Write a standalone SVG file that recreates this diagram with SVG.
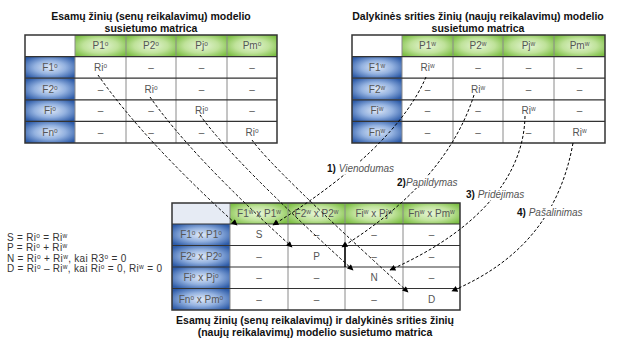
<svg xmlns="http://www.w3.org/2000/svg" width="619" height="341" viewBox="0 0 619 341">
<defs>
<radialGradient id="gG" cx="0.5" cy="0.5" r="0.62">
<stop offset="0" stop-color="#e6f5d6"/><stop offset="0.55" stop-color="#bfe29a"/><stop offset="1" stop-color="#7dbf45"/>
</radialGradient>
<radialGradient id="gB" cx="0.5" cy="0.5" r="0.62">
<stop offset="0" stop-color="#e0e9f7"/><stop offset="0.5" stop-color="#94b2e0"/><stop offset="1" stop-color="#2d5ba8"/>
</radialGradient>
<marker id="ah" viewBox="0 0 10 10" refX="9" refY="5" markerWidth="7" markerHeight="6" orient="auto" markerUnits="userSpaceOnUse">
<path d="M0,0 L10,5 L0,10 z" fill="#000"/>
</marker>
<style>
text{font-family:"Liberation Sans",Arial,sans-serif}
.c{font-size:10px;fill:#555;text-anchor:middle}
.ti{font-size:10.5px;font-weight:bold;fill:#111;text-anchor:middle}
.f{font-size:10px;fill:#333;letter-spacing:0.3px}
.s{font-size:6.5px;baseline-shift:3.5px}
.hl{stroke:#333;stroke-width:1.2;fill:none}
.vl{stroke:#8a8a8a;stroke-width:1;fill:none}
.ob{stroke:#333;stroke-width:1.5;fill:none}
.gr{fill:url(#gG)}
.bl{fill:url(#gB)}
.cn{fill:none;stroke:#000;stroke-width:1;stroke-dasharray:3,2;marker-end:url(#ah)}
.lb{font-size:10px}
.lb1{font-weight:bold;fill:#111}
.lb2{font-style:italic;fill:#555}
</style>
</defs>
<rect width="619" height="341" fill="#fff"/>

<g id="matrix-old">
<text class="ti" x="151" y="20">Esamų žinių (senų reikalavimų) modelio</text>
<text class="ti" x="151" y="32">susietumo matrica</text>
<rect x="25" y="35" width="50" height="21.6" fill="#fff"/>
<rect class="gr" x="75" y="35" width="51" height="21.6"/>
<rect class="gr" x="126" y="35" width="50" height="21.6"/>
<rect class="gr" x="176" y="35" width="51" height="21.6"/>
<rect class="gr" x="227" y="35" width="50" height="21.6"/>
<rect class="bl" x="25" y="56.6" width="50" height="21.6"/>
<rect class="bl" x="25" y="78.2" width="50" height="21.6"/>
<rect class="bl" x="25" y="99.8" width="50" height="21.6"/>
<rect class="bl" x="25" y="121.4" width="50" height="21.6"/>
<path class="vl" d="M75,35V143M126,35V143M176,35V143M227,35V143"/>
<path class="hl" d="M25,56.6H277M25,78.2H277M25,99.8H277M25,121.4H277"/>
<rect class="ob" x="25" y="35" width="252" height="108"/>
<text class="c" x="100.5" y="49.3">P1<tspan class="s">o</tspan></text>
<text class="c" x="151" y="49.3">P2<tspan class="s">o</tspan></text>
<text class="c" x="201.5" y="49.3">Pj<tspan class="s">o</tspan></text>
<text class="c" x="252" y="49.3">Pm<tspan class="s">o</tspan></text>
<text class="c" x="50" y="70.9">F1<tspan class="s">o</tspan></text>
<text class="c" x="50" y="92.5">F2<tspan class="s">o</tspan></text>
<text class="c" x="50" y="114.1">Fi<tspan class="s">o</tspan></text>
<text class="c" x="50" y="135.7">Fn<tspan class="s">o</tspan></text>
<text class="c" x="100.5" y="70.9">Ri<tspan class="s">o</tspan></text>
<text class="c" x="151" y="70.9">–</text>
<text class="c" x="201.5" y="70.9">–</text>
<text class="c" x="252" y="70.9">–</text>
<text class="c" x="100.5" y="92.5">–</text>
<text class="c" x="151" y="92.5">Ri<tspan class="s">o</tspan></text>
<text class="c" x="201.5" y="92.5">–</text>
<text class="c" x="252" y="92.5">–</text>
<text class="c" x="100.5" y="114.1">–</text>
<text class="c" x="151" y="114.1">–</text>
<text class="c" x="201.5" y="114.1">Ri<tspan class="s">o</tspan></text>
<text class="c" x="252" y="114.1">–</text>
<text class="c" x="100.5" y="135.7">–</text>
<text class="c" x="151" y="135.7">–</text>
<text class="c" x="201.5" y="135.7">–</text>
<text class="c" x="252" y="135.7">Ri<tspan class="s">o</tspan></text>
</g>

<g id="matrix-new">
<text class="ti" x="478" y="20">Dalykinės srities žinių (naujų reikalavimų) modelio</text>
<text class="ti" x="478" y="32">susietumo matrica</text>
<rect x="352" y="35" width="50" height="21.6" fill="#fff"/>
<rect class="gr" x="402" y="35" width="51" height="21.6"/>
<rect class="gr" x="453" y="35" width="50" height="21.6"/>
<rect class="gr" x="503" y="35" width="51" height="21.6"/>
<rect class="gr" x="554" y="35" width="51" height="21.6"/>
<rect class="bl" x="352" y="56.6" width="50" height="21.6"/>
<rect class="bl" x="352" y="78.2" width="50" height="21.6"/>
<rect class="bl" x="352" y="99.8" width="50" height="21.6"/>
<rect class="bl" x="352" y="121.4" width="50" height="21.6"/>
<path class="vl" d="M402,35V143M453,35V143M503,35V143M554,35V143"/>
<path class="hl" d="M352,56.6H605M352,78.2H605M352,99.8H605M352,121.4H605"/>
<rect class="ob" x="352" y="35" width="253" height="108"/>
<text class="c" x="427.5" y="49.3">P1<tspan class="s">w</tspan></text>
<text class="c" x="478" y="49.3">P2<tspan class="s">w</tspan></text>
<text class="c" x="528.5" y="49.3">Pj<tspan class="s">w</tspan></text>
<text class="c" x="579.5" y="49.3">Pm<tspan class="s">w</tspan></text>
<text class="c" x="377" y="70.9">F1<tspan class="s">w</tspan></text>
<text class="c" x="377" y="92.5">F2<tspan class="s">w</tspan></text>
<text class="c" x="377" y="114.1">Fi<tspan class="s">w</tspan></text>
<text class="c" x="377" y="135.7">Fn<tspan class="s">w</tspan></text>
<text class="c" x="427.5" y="70.9">Ri<tspan class="s">w</tspan></text>
<text class="c" x="478" y="70.9">–</text>
<text class="c" x="528.5" y="70.9">–</text>
<text class="c" x="579.5" y="70.9">–</text>
<text class="c" x="427.5" y="92.5">–</text>
<text class="c" x="478" y="92.5">Ri<tspan class="s">w</tspan></text>
<text class="c" x="528.5" y="92.5">–</text>
<text class="c" x="579.5" y="92.5">–</text>
<text class="c" x="427.5" y="114.1">–</text>
<text class="c" x="478" y="114.1">–</text>
<text class="c" x="528.5" y="114.1">Ri<tspan class="s">w</tspan></text>
<text class="c" x="579.5" y="114.1">–</text>
<text class="c" x="427.5" y="135.7">–</text>
<text class="c" x="478" y="135.7">–</text>
<text class="c" x="528.5" y="135.7">–</text>
<text class="c" x="579.5" y="135.7">Ri<tspan class="s">w</tspan></text>
</g>

<g id="matrix-combined">
<rect x="172" y="203" width="58" height="21" fill="#e6ebf4"/>
<rect class="gr" x="230" y="203" width="58" height="21"/>
<rect class="gr" x="288" y="203" width="57" height="21"/>
<rect class="gr" x="345" y="203" width="58" height="21"/>
<rect class="gr" x="403" y="203" width="57" height="21"/>
<rect class="bl" x="172" y="224" width="58" height="21.5"/>
<rect class="bl" x="172" y="245.5" width="58" height="21.5"/>
<rect class="bl" x="172" y="267" width="58" height="21.5"/>
<rect class="bl" x="172" y="288.5" width="58" height="21.5"/>
<path class="vl" d="M230,203V310M288,203V310M345,203V310M403,203V310"/>
<path class="hl" d="M172,224H460M172,245.5H460M172,267H460M172,288.5H460"/>
<path d="M345,245.5V267" stroke="#000" stroke-width="1.5"/>
<rect class="ob" x="172" y="203" width="288" height="107"/>
<text class="c" x="259" y="217">F1<tspan class="s">w</tspan> x P1<tspan class="s">w</tspan></text>
<text class="c" x="316.5" y="217">F2<tspan class="s">w</tspan> x P2<tspan class="s">w</tspan></text>
<text class="c" x="374" y="217">Fi<tspan class="s">w</tspan> x Pj<tspan class="s">w</tspan></text>
<text class="c" x="431.5" y="217">Fn<tspan class="s">w</tspan> x Pm<tspan class="s">w</tspan></text>
<text class="c" x="201" y="238.3">F1<tspan class="s">o</tspan> x P1<tspan class="s">o</tspan></text>
<text class="c" x="201" y="259.8">F2<tspan class="s">o</tspan> x P2<tspan class="s">o</tspan></text>
<text class="c" x="201" y="281.3">Fi<tspan class="s">o</tspan> x Pj<tspan class="s">o</tspan></text>
<text class="c" x="201" y="302.8">Fn<tspan class="s">o</tspan> x Pm<tspan class="s">o</tspan></text>
<text class="c" x="259" y="238.3">S</text>
<text class="c" x="316.5" y="238.3">–</text>
<text class="c" x="374" y="238.3">–</text>
<text class="c" x="431.5" y="238.3">–</text>
<text class="c" x="259" y="259.8">–</text>
<text class="c" x="316.5" y="259.8">P</text>
<text class="c" x="374" y="259.8">–</text>
<text class="c" x="431.5" y="259.8">–</text>
<text class="c" x="259" y="281.3">–</text>
<text class="c" x="316.5" y="281.3">–</text>
<text class="c" x="374" y="281.3">N</text>
<text class="c" x="431.5" y="281.3">–</text>
<text class="c" x="259" y="302.8">–</text>
<text class="c" x="316.5" y="302.8">–</text>
<text class="c" x="374" y="302.8">–</text>
<text class="c" x="431.5" y="302.8">D</text>
<text class="ti" x="315" y="324">Esamų žinių (senų reikalavimų) ir dalykinės srities žinių</text>
<text class="ti" x="315" y="335.5">(naujų reikalavimų) modelio susietumo matrica</text>
</g>

<g id="formulas">
<text class="f" x="7" y="240.5">S = Ri<tspan class="s">o</tspan> = Ri<tspan class="s">w</tspan></text>
<text class="f" x="7" y="251">P = Ri<tspan class="s">o</tspan> + Ri<tspan class="s">w</tspan></text>
<text class="f" x="7" y="261.5">N = Ri<tspan class="s">o</tspan> + Ri<tspan class="s">w</tspan>, kai R3<tspan class="s">o</tspan> = 0</text>
<text class="f" x="7" y="272">D = Ri<tspan class="s">o</tspan> – Ri<tspan class="s">w</tspan>, kai Ri<tspan class="s">o</tspan> = 0, Ri<tspan class="s">w</tspan> = 0</text>
</g>

<g id="connectors">
<path class="cn" d="M98,75 Q143.5,140 237,225"/>
<path class="cn" d="M150,97 Q190,154.5 292,247"/>
<path class="cn" d="M200,115 Q231,159 353,270"/>
<path class="cn" d="M252,140 Q271.6,168 408,292"/>
<path class="cn" d="M426,77 C406,124 355,174 273,225"/>
<path class="cn" d="M474,95 C455.5,153 411,204 342,247"/>
<path class="cn" d="M525,116 C524,175 480,230 390,270"/>
<path class="cn" d="M573,143 C560,215 520,262 452,291"/>
</g>

<g id="labels">
<rect x="326" y="162" width="70" height="12" fill="#fff"/>
<text class="lb" x="327" y="171.5"><tspan class="lb1">1)</tspan><tspan class="lb2"> Vienodumas</tspan></text>
<rect x="396" y="176" width="63" height="12" fill="#fff"/>
<text class="lb" x="397" y="185.5"><tspan class="lb1">2)</tspan><tspan class="lb2">Papildymas</tspan></text>
<rect x="465" y="188" width="59" height="12" fill="#fff"/>
<text class="lb" x="466" y="197.5"><tspan class="lb1">3)</tspan><tspan class="lb2"> Pridėjimas</tspan></text>
<rect x="516" y="206" width="68" height="12" fill="#fff"/>
<text class="lb" x="517" y="215.5"><tspan class="lb1">4)</tspan><tspan class="lb2"> Pašalinimas</tspan></text>
</g>
</svg>
